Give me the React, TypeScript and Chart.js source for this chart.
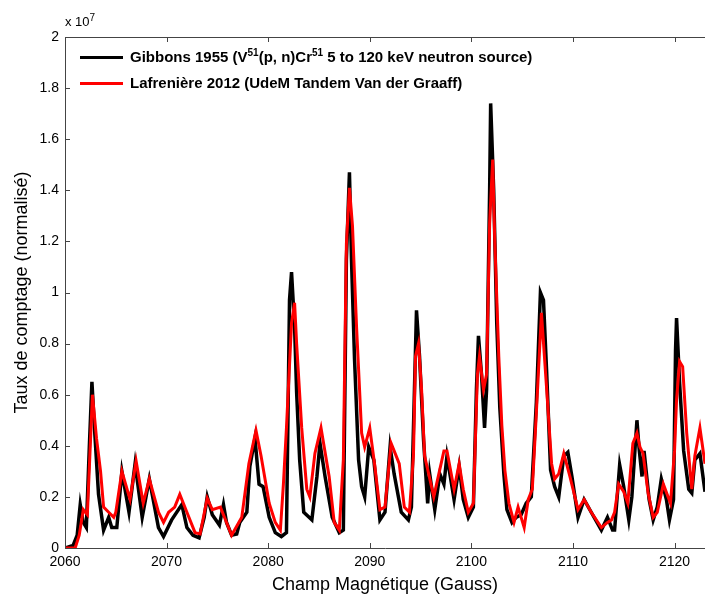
import React, { useEffect, useRef } from "react";
import { Chart, registerables } from "chart.js";

Chart.register(...registerables);

// Gibbons 1955 (black)
const gibbonsX = [
  2060.0, 2060.8, 2061.2, 2061.5, 2061.8, 2062.1, 2062.4, 2062.65, 2062.9, 2063.3,
  2063.8, 2064.3, 2064.6, 2065.1, 2065.6, 2066.3, 2066.9, 2067.6, 2068.3, 2069.2,
  2069.7, 2070.5, 2071.5, 2072.0, 2072.6, 2073.2, 2073.7, 2074.0, 2074.5, 2075.2,
  2075.6, 2075.9, 2076.4, 2076.9, 2077.2, 2077.9, 2078.2, 2078.7, 2079.1, 2079.5,
  2080.1, 2080.7, 2081.3, 2081.8, 2082.1, 2082.3, 2082.6, 2082.8, 2083.1, 2083.5,
  2084.3, 2084.8, 2085.1, 2085.6, 2086.3, 2087.0, 2087.4, 2087.7, 2088.0, 2088.2,
  2088.5, 2088.9, 2089.2, 2089.5, 2089.9, 2090.4, 2091.0, 2091.5, 2092.0, 2092.4,
  2093.1, 2093.8, 2094.1, 2094.4, 2094.6, 2094.9, 2095.3, 2095.7, 2095.9, 2096.4,
  2096.9, 2097.3, 2097.6, 2098.3, 2098.8, 2099.2, 2099.7, 2100.2, 2100.5, 2100.7,
  2101.0, 2101.3, 2101.5, 2101.8, 2101.9, 2102.2, 2102.5, 2102.8, 2103.2, 2103.5,
  2104.0, 2104.4, 2104.9, 2105.4, 2105.9, 2106.4, 2106.8, 2107.1, 2107.4, 2107.8,
  2108.2, 2108.6, 2109.1, 2109.5, 2109.9, 2110.5, 2111.1, 2111.8, 2112.8, 2113.4,
  2113.9, 2114.1, 2114.6, 2115.0, 2115.5, 2115.8, 2116.3, 2116.5, 2116.8, 2117.0,
  2117.5, 2117.9, 2118.3, 2118.7, 2119.2, 2119.5, 2119.9, 2120.1, 2120.2, 2120.5,
  2120.9, 2121.4, 2121.7, 2122.0, 2122.5, 2123.0,
];
const gibbonsY = [
  0.0, 0.01, 0.05, 0.17, 0.1, 0.08, 0.4, 0.65, 0.47, 0.21,
  0.07, 0.12, 0.08, 0.08, 0.3, 0.14, 0.33, 0.12, 0.27, 0.08,
  0.045, 0.11, 0.17, 0.08, 0.05, 0.04, 0.12, 0.2, 0.13, 0.09,
  0.17, 0.1, 0.05, 0.055, 0.1, 0.14, 0.32, 0.43, 0.25, 0.24,
  0.12, 0.06, 0.045, 0.06, 0.97, 1.08, 0.865, 0.61, 0.345, 0.14,
  0.11, 0.28, 0.41, 0.28, 0.12, 0.06, 0.07, 1.13, 1.47, 1.13,
  0.74, 0.345, 0.24, 0.2, 0.395, 0.345, 0.11, 0.14, 0.395, 0.29,
  0.14, 0.11, 0.16, 0.62, 0.93, 0.75, 0.42, 0.175, 0.29, 0.15,
  0.29, 0.25, 0.36, 0.19, 0.32, 0.19, 0.12, 0.16, 0.62, 0.83,
  0.68, 0.47, 0.62, 1.4, 1.74, 1.4, 0.88, 0.55, 0.29, 0.15,
  0.1, 0.12, 0.13, 0.175, 0.2, 0.57, 1.0, 0.97, 0.7, 0.305,
  0.24, 0.2, 0.36, 0.375, 0.28, 0.12, 0.19, 0.14, 0.07, 0.12,
  0.07, 0.07, 0.325, 0.24, 0.11, 0.2, 0.5, 0.395, 0.28, 0.38,
  0.19, 0.11, 0.16, 0.27, 0.19, 0.11, 0.19, 0.775, 0.9, 0.645,
  0.38, 0.23, 0.215, 0.345, 0.37, 0.22,
];

// Lafrenière 2012 (red)
const lafrX = [
  2060.0, 2061.0, 2061.4, 2061.8, 2062.2, 2062.7, 2063.1, 2063.5, 2063.8, 2064.3,
  2064.8, 2065.0, 2065.6, 2066.4, 2067.0, 2067.7, 2068.3, 2069.2, 2069.7, 2070.2,
  2070.8, 2071.3, 2072.0, 2072.8, 2073.3, 2074.0, 2074.5, 2075.3, 2075.9, 2076.4,
  2077.4, 2078.1, 2078.8, 2079.3, 2080.1, 2080.7, 2081.2, 2081.5, 2081.8, 2082.3,
  2082.6, 2082.8, 2083.3, 2083.8, 2084.1, 2084.6, 2085.2, 2086.0, 2086.5, 2087.0,
  2087.4, 2087.7, 2088.0, 2088.3, 2088.7, 2089.2, 2089.5, 2090.0, 2090.5, 2091.0,
  2091.5, 2092.1, 2092.4, 2092.9, 2093.4, 2093.9, 2094.3, 2094.5, 2094.8, 2095.1,
  2095.4, 2095.8, 2096.3, 2096.8, 2097.3, 2097.6, 2098.3, 2098.8, 2099.2, 2099.7,
  2100.2, 2100.6, 2100.8, 2101.2, 2101.5, 2101.8, 2102.1, 2102.3, 2102.7, 2103.0,
  2103.3, 2103.7, 2104.2, 2104.6, 2104.9, 2105.2, 2105.6, 2106.0, 2106.4, 2106.9,
  2107.4, 2107.9, 2108.2, 2108.6, 2109.1, 2109.7, 2110.5, 2111.1, 2111.8, 2112.8,
  2113.4, 2113.8, 2114.1, 2114.5, 2115.0, 2115.4, 2115.9, 2116.3, 2116.6, 2116.9,
  2117.4, 2117.9, 2118.3, 2118.9, 2119.6, 2120.0, 2120.2, 2120.5, 2120.8, 2121.2,
  2121.7, 2122.0, 2122.5, 2123.0,
];
const lafrY = [
  0.0, 0.0, 0.05, 0.15, 0.13, 0.6, 0.43, 0.3, 0.16, 0.14,
  0.12, 0.14, 0.3, 0.19, 0.34, 0.175, 0.27, 0.14, 0.1, 0.14,
  0.16, 0.21, 0.14, 0.06, 0.055, 0.195, 0.15, 0.16, 0.1, 0.05,
  0.12, 0.33, 0.46, 0.36, 0.175, 0.1, 0.07, 0.25, 0.47, 0.88,
  0.96, 0.8, 0.47, 0.23, 0.2, 0.37, 0.47, 0.28, 0.1, 0.07,
  0.345, 1.19, 1.41, 1.26, 0.865, 0.45, 0.395, 0.47, 0.32, 0.15,
  0.16, 0.41, 0.38, 0.33, 0.16, 0.14, 0.36, 0.75, 0.8, 0.62,
  0.36, 0.29, 0.2, 0.29, 0.38, 0.38, 0.23, 0.33, 0.23, 0.14,
  0.175, 0.68, 0.75, 0.62, 0.68, 1.27, 1.52, 1.21, 0.75, 0.48,
  0.305, 0.175, 0.1, 0.16, 0.12, 0.08, 0.19, 0.23, 0.53, 0.92,
  0.63, 0.33, 0.27, 0.29, 0.37, 0.28, 0.15, 0.19, 0.14, 0.08,
  0.1, 0.11, 0.14, 0.25, 0.22, 0.175, 0.41, 0.45, 0.395, 0.37,
  0.215, 0.12, 0.14, 0.25, 0.175, 0.38, 0.58, 0.73, 0.71, 0.45,
  0.23, 0.36, 0.47, 0.33,
];

const X_MIN = 2060;
const X_MAX = 2123;
const X_STEP = 10;
const Y_MIN = 0;
const Y_MAX = 2;
const Y_STEP = 0.2;

const LABEL_GIBBONS = "Gibbons 1955 (V⁵¹(p, n)Cr⁵¹ 5 to 120 keV neutron source)";
const LABEL_LAFR = "Lafrenière 2012 (UdeM Tandem Van der Graaff)";
const X_TITLE = "Champ Magnétique (Gauss)";
const Y_TITLE = "Taux de comptage (normalisé)";

const FONT = "'Liberation Sans', Arial, Helvetica, sans-serif";
const AXIS_COLOR = "#444444";

const framePlugin = {
  id: "matlabFrame",
  afterDraw(chart: any) {
    const { ctx, chartArea, scales } = chart;
    const { left, right, top, bottom } = chartArea;
    const xs = scales.x;
    const ys = scales.y;
    ctx.save();
    ctx.strokeStyle = AXIS_COLOR;
    ctx.lineWidth = 1;
    ctx.beginPath();
    ctx.moveTo(left, top + 0.5);
    ctx.lineTo(right, top + 0.5);
    xs.ticks.forEach((t: any) => {
      const px = Math.round(xs.getPixelForValue(t.value)) + 0.5;
      ctx.moveTo(px, bottom);
      ctx.lineTo(px, bottom - 5);
      ctx.moveTo(px, top);
      ctx.lineTo(px, top + 5);
    });
    ys.ticks.forEach((t: any) => {
      const py = Math.round(ys.getPixelForValue(t.value)) + 0.5;
      ctx.moveTo(left, py);
      ctx.lineTo(left + 5, py);
    });
    ctx.stroke();
    ctx.restore();
  },
};

export default function App() {
  const canvasRef = useRef<HTMLCanvasElement | null>(null);

  useEffect(() => {
    const canvas = canvasRef.current;
    if (!canvas) return;
    const black = gibbonsX.map((x, i) => ({ x, y: gibbonsY[i] }));
    const red = lafrX.map((x, i) => ({ x, y: lafrY[i] }));
    const chart = new Chart(canvas, {
      type: "line",
      data: {
        datasets: [
          {
            label: LABEL_GIBBONS,
            data: black,
            borderColor: "#000000",
            backgroundColor: "#000000",
            borderWidth: 3.5,
            pointRadius: 0,
            tension: 0,
            order: 2,
          },
          {
            label: LABEL_LAFR,
            data: red,
            borderColor: "#ff0000",
            backgroundColor: "#ff0000",
            borderWidth: 3,
            pointRadius: 0,
            tension: 0,
            order: 1,
          },
        ],
      },
      options: {
        responsive: false,
        animation: false,
        layout: { padding: { top: 37, left: 0, right: 0, bottom: 0 } },
        plugins: {
          legend: { display: false },
          tooltip: { enabled: false },
        },
        scales: {
          x: {
            type: "linear",
            min: X_MIN,
            max: X_MAX,
            grid: { display: true, drawOnChartArea: false, drawTicks: false },
            border: { display: true, color: AXIS_COLOR, width: 1 },
            ticks: {
              stepSize: X_STEP,
              includeBounds: false,
              padding: 6,
              color: "#000",
              font: { family: FONT, size: 14 },
              maxRotation: 0,
              callback: (v: any) => String(v),
            },
            title: {
              display: true,
              text: X_TITLE,
              color: "#000",
              font: { family: FONT, size: 18 },
              padding: { top: 0, bottom: 4 },
            },
            afterFit: (s: any) => {
              s.height = 52;
            },
          },
          y: {
            type: "linear",
            min: Y_MIN,
            max: Y_MAX,
            grid: { display: true, drawOnChartArea: false, drawTicks: false },
            border: { display: true, color: AXIS_COLOR, width: 1 },
            ticks: {
              stepSize: Y_STEP,
              padding: 6,
              color: "#000",
              font: { family: FONT, size: 14 },
              callback: (v: any) => String(Number(Number(v).toFixed(1))),
            },
            title: {
              display: true,
              text: Y_TITLE,
              color: "#000",
              font: { family: FONT, size: 18 },
              padding: { top: 11, bottom: 0 },
            },
            afterFit: (s: any) => {
              s.width = 65;
            },
          },
        },
      },
      plugins: [framePlugin],
    });
    return () => chart.destroy();
  }, []);

  const legendText: React.CSSProperties = {
    position: "absolute",
    left: 130,
    fontFamily: FONT,
    fontWeight: "bold",
    fontSize: 15,
    lineHeight: "18px",
    color: "#000",
    whiteSpace: "nowrap",
  };
  const legendLine: React.CSSProperties = {
    position: "absolute",
    left: 80,
    width: 43,
    height: 3,
  };
  const sup: React.CSSProperties = { fontSize: 10, lineHeight: 0 };

  return (
    <div
      style={{
        position: "absolute",
        left: 0,
        top: 0,
        width: 705,
        height: 600,
        background: "#fff",
        overflow: "hidden",
      }}
    >
      <canvas ref={canvasRef} width={705} height={600} style={{ display: "block" }} />
      <div
        style={{
          position: "absolute",
          left: 65,
          top: 12,
          fontFamily: FONT,
          fontSize: 13,
          color: "#000",
          whiteSpace: "nowrap",
        }}
      >
        x 10<sup style={{ fontSize: 10 }}>7</sup>
      </div>
      <div style={{ ...legendLine, top: 56, background: "#000" }} />
      <div style={{ ...legendText, top: 48 }}>
        Gibbons 1955 (V<sup style={sup}>51</sup>(p, n)Cr<sup style={sup}>51</sup> 5 to 120 keV neutron source)
      </div>
      <div style={{ ...legendLine, top: 82, background: "#ff0000" }} />
      <div style={{ ...legendText, top: 74 }}>{LABEL_LAFR}</div>
    </div>
  );
}
